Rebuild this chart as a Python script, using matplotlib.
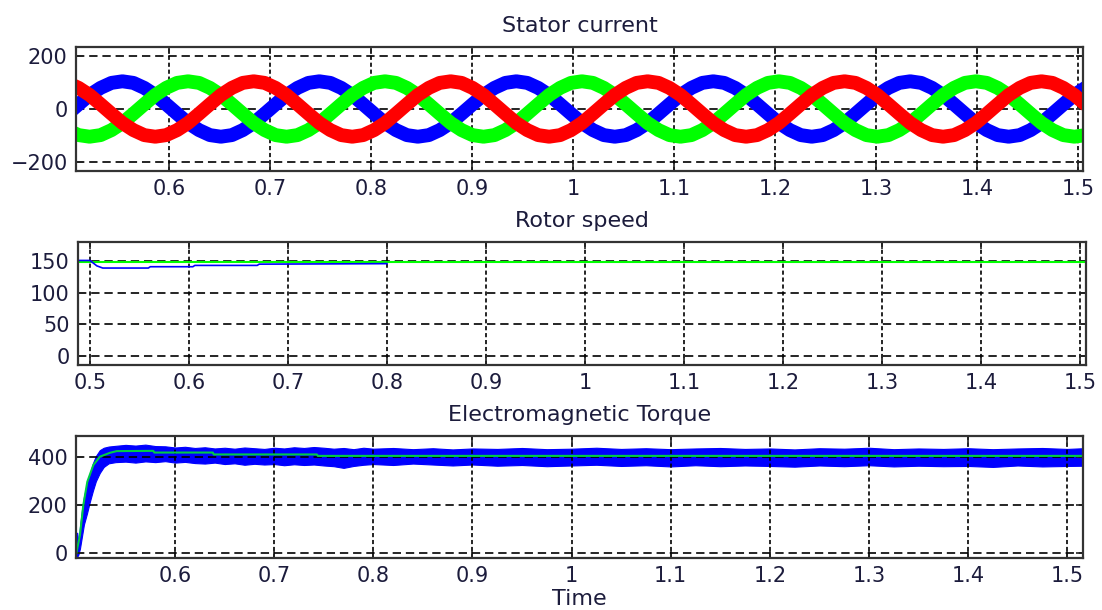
import numpy as np
import matplotlib
matplotlib.use("Agg")
import matplotlib.pyplot as plt

plt.rcParams['font.family'] = ['DejaVu Sans']
plt.rcParams['lines.scale_dashes'] = False

# ---------------- Stator current (three phases) ----------------
cur_t0 = 0.4998          # first sample time
cur_dt = 0.010833        # sample spacing (s)
ia = [-18, 18, 53, 80, 99,
      105, 99, 80, 53, 18, -18, -53, -80, -99, -105, -99, -80, -53, -18, 18, 53, 80, 99,
      105, 99, 80, 53, 18, -18, -53, -80, -99, -105, -99, -80, -53, -18, 18, 53, 80, 99,
      105, 99, 80, 53, 18, -18, -53, -80, -99, -105, -99, -80, -53, -18, 18, 53, 80, 99,
      105, 99, 80, 53, 18, -18, -53, -80, -99, -105, -99, -80, -53, -18, 18, 53, 80, 99,
      105, 99, 80, 53, 18, -18, -53, -80, -99, -105, -99, -80, -53, -18, 18, 53, 80]
ib = [-80, -99, -105, -99, -80, -53, -18, 18, 53, 80, 99,
      105, 99, 80, 53, 18, -18, -53, -80, -99, -105, -99, -80, -53, -18, 18, 53, 80, 99,
      105, 99, 80, 53, 18, -18, -53, -80, -99, -105, -99, -80, -53, -18, 18, 53, 80, 99,
      105, 99, 80, 53, 18, -18, -53, -80, -99, -105, -99, -80, -53, -18, 18, 53, 80, 99,
      105, 99, 80, 53, 18, -18, -53, -80, -99, -105, -99, -80, -53, -18, 18, 53, 80, 99,
      105, 99, 80, 53, 18, -18, -53, -80, -99, -105, -99]
ic = [99, 80, 53, 18, -18, -53, -80, -99, -105, -99, -80, -53, -18, 18, 53, 80, 99,
      105, 99, 80, 53, 18, -18, -53, -80, -99, -105, -99, -80, -53, -18, 18, 53, 80, 99,
      105, 99, 80, 53, 18, -18, -53, -80, -99, -105, -99, -80, -53, -18, 18, 53, 80, 99,
      105, 99, 80, 53, 18, -18, -53, -80, -99, -105, -99, -80, -53, -18, 18, 53, 80, 99,
      105, 99, 80, 53, 18, -18, -53, -80, -99, -105, -99, -80, -53, -18, 18, 53, 80, 99,
      105, 99, 80, 53, 18]

# ---------------- Rotor speed ----------------
spd_t = [0.488, 0.500, 0.503, 0.507, 0.513, 0.559, 0.561, 0.604, 0.606, 0.669, 0.671, 0.800]
spd_w = [151.6, 151.6, 148, 143, 139.5, 139.5, 141.6, 141.6, 143.7, 143.7, 145.7, 146.5]
ref_t = [0.488, 1.506]
ref_w = [149, 149]

# ---------------- Electromagnetic torque ----------------
te_ref_t = [0.5003, 0.504, 0.5074, 0.5114, 0.5175, 0.5242, 0.5343, 0.5411, 0.578, 0.579,
            0.638, 0.639, 0.743, 0.744, 1.516]
te_ref = [0, 76, 201, 298, 368, 403, 419, 426, 427, 420, 420, 412, 412, 406, 406]
te_t = [0.5000, 0.5012, 0.5025, 0.504, 0.506, 0.508, 0.511, 0.514, 0.517, 0.520, 0.524, 0.528,
        0.533, 0.540, 0.550, 0.560, 0.570, 0.580, 0.590, 0.600, 0.610, 0.620, 0.630, 0.640,
        0.650, 0.660, 0.670, 0.680, 0.690, 0.700, 0.710, 0.720, 0.730, 0.740, 0.750, 0.760,
        0.770, 0.780, 0.790, 0.800, 0.820, 0.840, 0.860, 0.880, 0.900, 0.925, 0.950, 0.975,
        1.000, 1.025, 1.050, 1.075, 1.100, 1.125, 1.150, 1.175, 1.200, 1.225, 1.250, 1.275,
        1.300, 1.325, 1.350, 1.375, 1.400, 1.425, 1.450, 1.475, 1.500, 1.516]
te_hi = [85, 85, 40, 110, 180, 235, 290, 330, 375, 405, 430, 440,
         445, 448, 452, 449, 453, 447, 446, 441, 444, 439, 442, 437,
         440, 436, 441, 438, 435, 440, 437, 442, 439, 443, 440, 436,
         439, 434, 440, 436, 439, 434, 438, 433, 437, 435, 439, 434,
         436, 440, 435, 438, 434, 437, 439, 435, 437, 433, 438, 436,
         440, 434, 437, 435, 438, 434, 437, 439, 435, 438]
te_lo = [-20, -15, -5, 20, 70, 120, 165, 215, 260, 300, 335, 360,
         375, 380, 382, 378, 383, 380, 384, 378, 381, 376, 374, 378,
         372, 375, 369, 373, 370, 372, 367, 371, 368, 370, 366, 363,
         356, 364, 369, 372, 368, 374, 370, 366, 370, 365, 368, 363,
         366, 369, 364, 367, 362, 367, 363, 366, 364, 361, 366, 363,
         367, 362, 365, 363, 364, 360, 366, 362, 364, 365]

TXT = '#1c1c3c'
W, H = 1102, 610
fig = plt.figure(figsize=(W / 100, H / 100), dpi=100)


def px_axes(l, t, r, b):
    return fig.add_axes([l / W, 1 - b / H, (r - l) / W, (b - t) / H])


def style(ax, xticks, yticks, xlabels=None):
    ax.set_xticks(xticks)
    ax.set_yticks(yticks)
    if xlabels is not None:
        ax.set_xticklabels(xlabels)
    ax.tick_params(direction='in', length=5, width=1.2, top=True, right=True,
                   labelsize=15, colors='#222222', labelcolor=TXT, pad=6)
    ax.grid(axis='y', color='k', linewidth=1.2, linestyle=(0, (6, 3.5)))
    ax.grid(axis='x', color='k', linewidth=1.2, linestyle=(0, (3, 2)))
    for s in ax.spines.values():
        s.set_color('#333333')
        s.set_linewidth(1.6)


xl = ['0.6', '0.7', '0.8', '0.9', '1', '1.1', '1.2', '1.3', '1.4', '1.5']

# top panel
ax1 = px_axes(76, 47, 1083, 171)
t_cur = cur_t0 + cur_dt * np.arange(len(ia))
ax1.plot(t_cur, ia, color='#0000ff', lw=10, solid_joinstyle='round')
ax1.plot(t_cur, ib, color='#00ff00', lw=10, solid_joinstyle='round')
ax1.plot(t_cur, ic, color='#ff0000', lw=10, solid_joinstyle='round')
ax1.set_xlim(0.508, 1.505)
ax1.set_ylim(-235, 235)
xt1 = [0.6, 0.7, 0.8, 0.9, 1.0, 1.1, 1.2, 1.3, 1.4, 1.5]
style(ax1, xt1, [-200, 0, 200], xl)
ax1.set_title('Stator current', fontsize=16, color=TXT, pad=11)

# middle panel
ax2 = px_axes(78, 242, 1086, 365)
ax2.plot(ref_t, ref_w, color='#00ff00', lw=1.5)
ax2.plot(spd_t, spd_w, color='#0000ff', lw=1.2)
ax2.set_xlim(0.488, 1.506)
ax2.set_ylim(-15, 181)
xt2 = [0.5, 0.6, 0.7, 0.8, 0.9, 1.0, 1.1, 1.2, 1.3, 1.4, 1.5]
style(ax2, xt2, [0, 50, 100, 150], ['0.5'] + xl)
ax2.set_title('Rotor speed', fontsize=16, color=TXT, pad=11)

# bottom panel
ax3 = px_axes(76, 436, 1083, 558)
ax3.fill_between(te_t, te_lo, te_hi, color='#0000ff', lw=0.8, edgecolor='#0000ff')
ax3.plot(te_ref_t, te_ref, color='#00cc44', lw=1.5)
ax3.set_xlim(0.5, 1.516)
ax3.set_ylim(-20, 489)
style(ax3, xt1, [0, 200, 400], xl)
ax3.set_title('Electromagnetic Torque', fontsize=16, color=TXT, pad=11)
ax3.set_xlabel('Time', fontsize=16, color=TXT, labelpad=2)

fig.savefig('out.png', dpi=100)
